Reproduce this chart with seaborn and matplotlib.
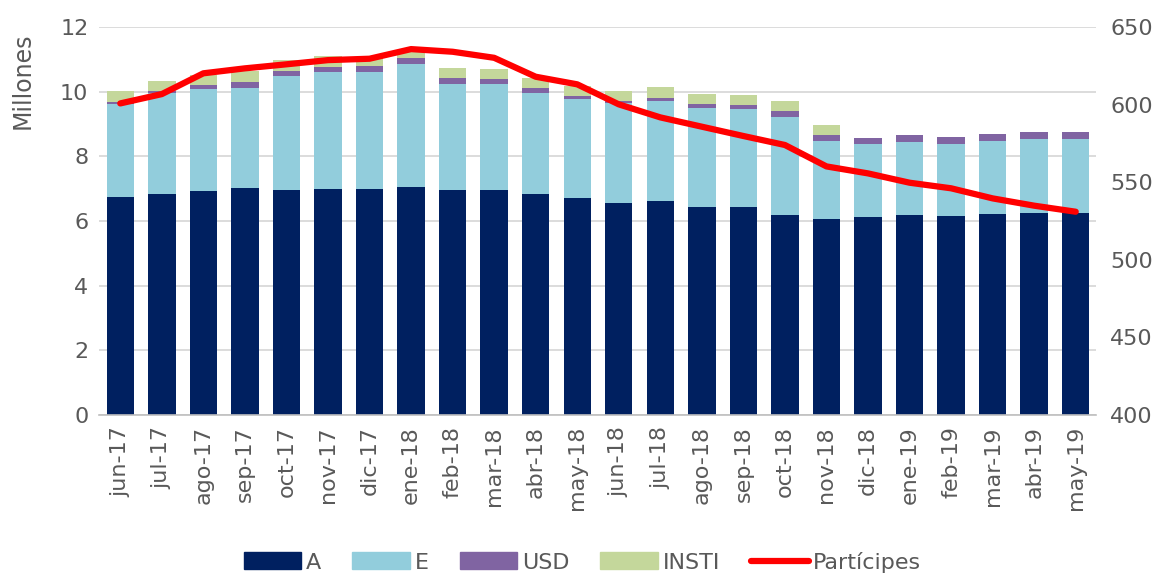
import numpy as np
import pandas as pd
import matplotlib
matplotlib.use('Agg')
import matplotlib.pyplot as plt
import matplotlib.patches as mpatches
from matplotlib.lines import Line2D
import seaborn as sns

# data (millions, stacked)
meses = ['jun-17', 'jul-17', 'ago-17', 'sep-17', 'oct-17', 'nov-17', 'dic-17', 'ene-18',
         'feb-18', 'mar-18', 'abr-18', 'may-18', 'jun-18', 'jul-18', 'ago-18', 'sep-18',
         'oct-18', 'nov-18', 'dic-18', 'ene-19', 'feb-19', 'mar-19', 'abr-19', 'may-19']
clase_a = [6.75, 6.84, 6.94, 7.03, 6.97, 6.99, 7.00, 7.06, 6.95, 6.96, 6.85, 6.72,
           6.57, 6.62, 6.43, 6.44, 6.20, 6.07, 6.13, 6.19, 6.15, 6.21, 6.26, 6.26]
clase_e = [2.86, 3.13, 3.13, 3.10, 3.51, 3.61, 3.60, 3.79, 3.30, 3.28, 3.10, 3.05,
           3.07, 3.08, 3.07, 3.03, 3.03, 2.41, 2.24, 2.27, 2.24, 2.26, 2.28, 2.29]
clase_usd = [0.08, 0.04, 0.13, 0.18, 0.17, 0.18, 0.19, 0.18, 0.17, 0.16, 0.17, 0.11,
             0.08, 0.11, 0.12, 0.13, 0.18, 0.19, 0.20, 0.20, 0.20, 0.22, 0.20, 0.20]
clase_insti = [0.32, 0.31, 0.32, 0.34, 0.33, 0.32, 0.29, 0.22, 0.31, 0.31, 0.32, 0.30,
               0.30, 0.33, 0.31, 0.31, 0.30, 0.31, 0.00, 0.00, 0.00, 0.00, 0.00, 0.00]
participes = [600.8, 606.8, 620.2, 623.4, 626.0, 628.7, 629.6, 635.8, 634.1, 630.2, 618.0, 613.1,
              600.2, 591.8, 585.8, 579.8, 574.0, 560.2, 555.7, 549.7, 546.1, 539.6, 534.9, 531.0]

colores = {'A': '#002060', 'E': '#92CDDC', 'USD': '#8064A2', 'INSTI': '#C4D79B'}
gris = '#595959'

df = pd.DataFrame({'mes': meses, 'A': clase_a, 'E': clase_e,
                   'USD': clase_usd, 'INSTI': clase_insti})
df['c_A'] = df['A']
df['c_E'] = df['c_A'] + df['E']
df['c_USD'] = df['c_E'] + df['USD']
df['c_INSTI'] = df['c_USD'] + df['INSTI']

sns.set_style('white')
plt.rcParams['font.family'] = ['DejaVu Sans']

fig = plt.figure(figsize=(11.65, 5.76), dpi=100)
ax = fig.add_axes([0.0854, 0.2795, 0.8558, 0.6735])

# stacked bars: draw cumulative totals from top down
for serie in ['INSTI', 'USD', 'E', 'A']:
    sns.barplot(data=df, x='mes', y='c_' + serie, color=colores[serie], saturation=1,
                width=0.66, errorbar=None, linewidth=0, ax=ax, zorder=2)

ax.set_ylim(0, 12)
ax.set_yticks(range(0, 13, 2))
ax.set_xlim(-0.5, len(meses) - 0.5)
ax.set_ylabel('Millones', fontsize=17, color=gris, loc='top')
ax.yaxis.set_label_coords(-0.065, 0.985)
ax.set_xlabel('')
ax.grid(axis='y', color='#D9D9D9', linewidth=1.3, zorder=0)
ax.set_axisbelow(True)
for s in ['top', 'right', 'left']:
    ax.spines[s].set_visible(False)
ax.spines['bottom'].set_color('#BFBFBF')
ax.spines['bottom'].set_linewidth(1.2)
ax.tick_params(axis='y', labelsize=16, colors=gris, length=0, pad=8)
ax.set_xticks(range(len(meses)))
ax.set_xticklabels(meses, rotation=90, fontsize=16, color=gris)
ax.tick_params(axis='x', which='major', length=0, pad=8)
ax.set_xticks(np.arange(-0.5, len(meses)), minor=True)
ax.tick_params(axis='x', which='minor', length=9, color='#BFBFBF', width=1.2)

ax2 = ax.twinx()
sns.lineplot(x=np.arange(len(meses)), y=participes, color='#FF0000', linewidth=4.5,
             ax=ax2, zorder=5)
ax2.set_ylim(400, 650)
ax2.set_yticks(range(400, 651, 50))
ax2.tick_params(axis='y', labelsize=16, colors=gris, length=0, pad=10)
for s in ax2.spines.values():
    s.set_visible(False)
ax2.grid(False)

handles = [mpatches.Patch(color=colores[k], label=k) for k in ['A', 'E', 'USD', 'INSTI']]
handles.append(Line2D([0], [0], color='#FF0000', linewidth=4.5, label='Partícipes'))
leg = fig.legend(handles=handles, loc='center', bbox_to_anchor=(0.5, 0.024), ncol=5,
                 frameon=False, fontsize=16, handlelength=2.6, handleheight=0.8,
                 handletextpad=0.2, columnspacing=1.4)
for t in leg.get_texts():
    t.set_color(gris)

fig.savefig('out.png', dpi=100)
